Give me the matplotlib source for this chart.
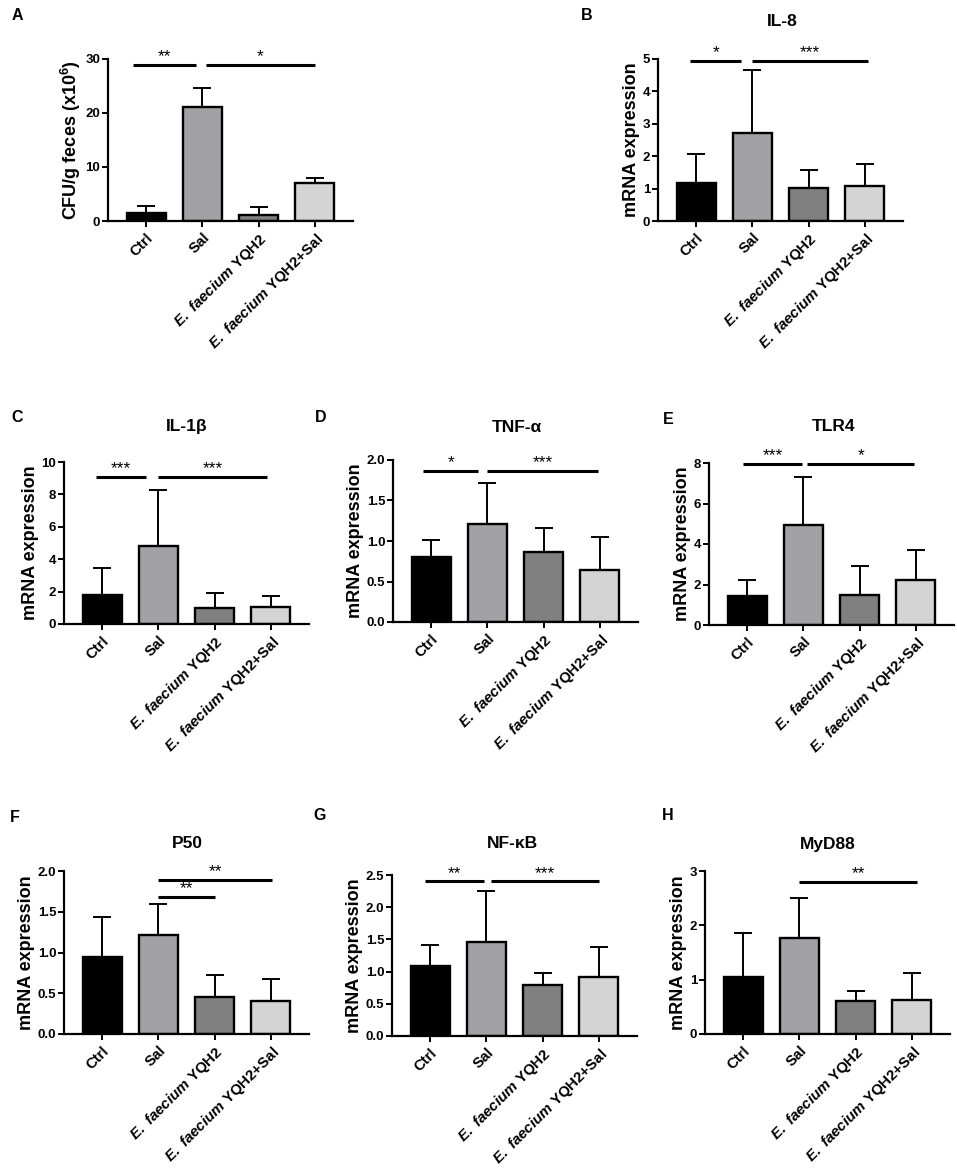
import numpy as np
import matplotlib
matplotlib.use('Agg')
import matplotlib.pyplot as plt

plt.rcParams['font.family'] = ['Liberation Sans', 'DejaVu Sans']
plt.rcParams['font.weight'] = 'bold'
plt.rcParams['axes.labelweight'] = 'bold'
plt.rcParams['mathtext.fontset'] = 'custom'
plt.rcParams['mathtext.rm'] = 'Liberation Sans:bold'
plt.rcParams['mathtext.bf'] = 'Liberation Sans:bold'
plt.rcParams['mathtext.it'] = 'Liberation Sans:italic:bold'
plt.rcParams['mathtext.bfit'] = 'Liberation Sans:italic:bold'

groups = ['Ctrl', 'Sal', r'$\mathbfit{E.\ faecium}$ YQH2', r'$\mathbfit{E.\ faecium}$ YQH2+Sal']
bar_colors = ['#000000', '#a2a2a6', '#808080', '#d4d4d4']

# means and upper SD
cfu_mean = [1.5, 21.1, 1.1, 7.0]
cfu_sd = [1.3, 3.5, 1.5, 1.0]
il8_mean = [1.16, 2.72, 1.02, 1.09]
il8_sd = [0.92, 1.95, 0.54, 0.67]
il1b_mean = [1.80, 4.80, 0.97, 1.02]
il1b_sd = [1.68, 3.48, 0.96, 0.72]
tnfa_mean = [0.80, 1.21, 0.86, 0.64]
tnfa_sd = [0.21, 0.51, 0.30, 0.41]
tlr4_mean = [1.44, 4.93, 1.49, 2.21]
tlr4_sd = [0.77, 2.36, 1.40, 1.48]
p50_mean = [0.95, 1.21, 0.455, 0.41]
p50_sd = [0.48, 0.38, 0.265, 0.26]
nfkb_mean = [1.08, 1.46, 0.79, 0.92]
nfkb_sd = [0.33, 0.79, 0.185, 0.46]
myd88_mean = [1.04, 1.76, 0.60, 0.63]
myd88_sd = [0.82, 0.75, 0.19, 0.50]

# significance bars: (x start, x end, height, stars)
sig_A = [(-0.23, 0.89, 28.9, '**'), (1.07, 3.0, 28.9, '*')]
sig_B = [(-0.11, 0.80, 4.94, '*'), (0.99, 3.05, 4.94, '***')]
sig_C = [(-0.11, 0.78, 9.07, '***'), (1.0, 2.93, 9.07, '***')]
sig_D = [(-0.14, 0.83, 1.87, '*'), (1.0, 2.97, 1.87, '***')]
sig_E = [(-0.07, 0.98, 7.96, '***'), (1.07, 2.97, 7.96, '*')]
sig_F = [(1.0, 2.0, 1.685, '**'), (1.0, 3.03, 1.89, '**')]
sig_G = [(-0.09, 0.96, 2.40, '**'), (1.09, 3.0, 2.40, '***')]
sig_H = [(1.0, 3.1, 2.80, '**')]

W, H = 957, 1168
fig = plt.figure(figsize=(W / 100, H / 100), dpi=100)


def panel(left, top, zero, mean, sd, ymax, step, fmt, sig, ylabel='mRNA expression'):
    ax = fig.add_axes([left / W, 1 - zero / H, 245 / W, (zero - top) / H])
    x = np.arange(4)
    ax.errorbar(x, mean, yerr=[np.zeros(4), sd], fmt='none', ecolor='k',
                elinewidth=1.4, capsize=6.5, capthick=1.4, zorder=1)
    ax.bar(x, mean, width=0.69, color=bar_colors, edgecolor='k', linewidth=1.7, zorder=2)
    ax.set_xlim(-0.68, 3.68)
    ax.set_ylim(0, ymax)
    ax.set_yticks(np.arange(0, ymax + step / 2, step))
    ax.yaxis.set_major_formatter(plt.FormatStrFormatter(fmt))
    ax.set_xticks(x)
    ax.set_xticklabels(groups, rotation=45, ha='right', rotation_mode='anchor', fontsize=10.8)
    ax.tick_params(axis='y', labelsize=9.5, length=4, width=1.4, pad=1.5)
    ax.tick_params(axis='x', length=4.5, width=1.4, pad=2.5)
    for s in ['top', 'right']:
        ax.spines[s].set_visible(False)
    for s in ['left', 'bottom']:
        ax.spines[s].set_linewidth(1.6)
    ax.set_ylabel(ylabel, fontsize=13, fontweight='bold', labelpad=2)
    for x0, x1, y, stars in sig:
        ax.plot([x0, x1], [y, y], color='k', lw=2.2, clip_on=False, solid_capstyle='butt')
        ax.annotate(stars, xy=((x0 + x1) / 2, y), xytext=(0, 2.5), textcoords='offset points',
                    ha='center', va='baseline', fontsize=12.5, fontweight='normal')
    return ax


panel(108, 59, 221, cfu_mean, cfu_sd, 30, 10, '%d', sig_A, ylabel=r'CFU/g feces (x10$^{\mathbf{6}}$)')
panel(658, 59, 221, il8_mean, il8_sd, 5, 1, '%d', sig_B)
panel(64, 462, 624, il1b_mean, il1b_sd, 10, 2, '%d', sig_C)
panel(393, 460, 622, tnfa_mean, tnfa_sd, 2.0, 0.5, '%.1f', sig_D)
panel(709, 463, 625, tlr4_mean, tlr4_sd, 8, 2, '%d', sig_E)
panel(64, 871, 1034, p50_mean, p50_sd, 2.0, 0.5, '%.1f', sig_F)
panel(392, 875, 1036, nfkb_mean, nfkb_sd, 2.5, 0.5, '%.1f', sig_G)
panel(705, 871, 1034, myd88_mean, myd88_sd, 3, 1, '%d', sig_H)

# panel letters and titles (pixel positions)
letters = [('A', 17, 16), ('B', 587, 16), ('C', 17, 418), ('D', 321, 418),
           ('E', 668, 419), ('F', 15, 817), ('G', 320, 816), ('H', 668, 816)]
for t, px, py in letters:
    fig.text(px / W, 1 - py / H, t, fontsize=11.5, ha='center', va='center')

titles = [('IL-8', 782, 21), ('IL-1β', 187, 427), ('TNF-α', 517, 428), ('TLR4', 833, 426),
          ('P50', 187, 843), ('NF-κB', 512, 843), ('MyD88', 828, 845)]
for t, px, py in titles:
    fig.text(px / W, 1 - py / H, t, fontsize=12.5, ha='center', va='center')

fig.savefig('out.png', dpi=100)
